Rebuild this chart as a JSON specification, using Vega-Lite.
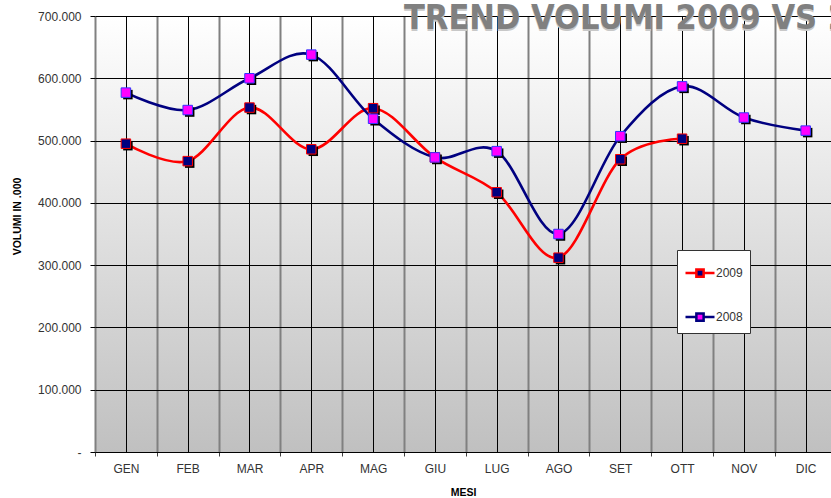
{
  "$schema": "https://vega.github.io/schema/vega-lite/v6.json",
  "autosize": "none",
  "width": 736,
  "height": 436,
  "padding": {"left": 95, "top": 16, "right": 0, "bottom": 46},
  "background": "#FFFFFF",
  "view": {
    "stroke": null,
    "fill": {"gradient": "linear", "x1": 0, "y1": 0, "x2": 0, "y2": 1,
      "stops": [{"offset": 0, "color": "#FFFFFF"}, {"offset": 1, "color": "#C0C0C0"}]}
  },
  "title": {
    "text": "\u2009TREND VOLUMI 2009 VS 2008",
    "subtitle": "TREND VOLUMI 2009 VS 2008",
    "anchor": "start",
    "frame": "group",
    "orient": "top",
    "dx": 309,
    "offset": -30,
    "font": "DejaVu Sans Condensed",
    "fontSize": 34,
    "fontWeight": "bold",
    "color": "#C8C8C8",
    "subtitleFont": "DejaVu Sans Condensed",
    "subtitleFontSize": 34,
    "subtitleFontWeight": "bold",
    "subtitleColor": "#808080",
    "subtitlePadding": -36
  },
  "datasets": {
    "vol": [
      {"m": 1, "mese": "GEN", "anno": "2009", "volume": 495000},
      {"m": 2, "mese": "FEB", "anno": "2009", "volume": 467000},
      {"m": 3, "mese": "MAR", "anno": "2009", "volume": 553000},
      {"m": 4, "mese": "APR", "anno": "2009", "volume": 486000},
      {"m": 5, "mese": "MAG", "anno": "2009", "volume": 552000},
      {"m": 6, "mese": "GIU", "anno": "2009", "volume": 473000},
      {"m": 7, "mese": "LUG", "anno": "2009", "volume": 417000},
      {"m": 8, "mese": "AGO", "anno": "2009", "volume": 312000},
      {"m": 9, "mese": "SET", "anno": "2009", "volume": 470000},
      {"m": 10, "mese": "OTT", "anno": "2009", "volume": 503000},
      {"m": 1, "mese": "GEN", "anno": "2008", "volume": 577000},
      {"m": 2, "mese": "FEB", "anno": "2008", "volume": 549000},
      {"m": 3, "mese": "MAR", "anno": "2008", "volume": 600000},
      {"m": 4, "mese": "APR", "anno": "2008", "volume": 638000},
      {"m": 5, "mese": "MAG", "anno": "2008", "volume": 535000},
      {"m": 6, "mese": "GIU", "anno": "2008", "volume": 473000},
      {"m": 7, "mese": "LUG", "anno": "2008", "volume": 483000},
      {"m": 8, "mese": "AGO", "anno": "2008", "volume": 350000},
      {"m": 9, "mese": "SET", "anno": "2008", "volume": 507000},
      {"m": 10, "mese": "OTT", "anno": "2008", "volume": 587000},
      {"m": 11, "mese": "NOV", "anno": "2008", "volume": 537000},
      {"m": 12, "mese": "DIC", "anno": "2008", "volume": 516000}
    ]
  },
  "data": {"name": "vol"},
  "encoding": {
    "x": {
      "field": "m", "type": "quantitative",
      "scale": {"domain": [0.5, 12.41], "nice": false, "zero": false},
      "axis": {
        "title": "MESI",
        "values": [0.5, 1, 1.5, 2, 2.5, 3, 3.5, 4, 4.5, 5, 5.5, 6, 6.5, 7, 7.5, 8, 8.5, 9, 9.5, 10, 10.5, 11, 11.5, 12],
        "labelExpr": "datum.value % 1 === 0 ? ['GEN','FEB','MAR','APR','MAG','GIU','LUG','AGO','SET','OTT','NOV','DIC'][datum.value - 1] : ''",
        "labelOverlap": false,
        "labelFlush": false,
        "labelBound": false,
        "labelFont": "Liberation Sans",
        "labelFontSize": 12,
        "labelColor": "#333333",
        "labelPadding": 7,
        "grid": true,
        "gridColor": {"condition": {"test": "datum.value % 1 !== 0", "value": "#808080"}, "value": "#000000"},
        "gridWidth": {"condition": {"test": "datum.value % 1 !== 0", "value": 2}, "value": 1},
        "gridOpacity": 1,
        "ticks": true,
        "tickSize": 4,
        "tickColor": "#404040",
        "tickOpacity": {"condition": {"test": "datum.value % 1 !== 0", "value": 1}, "value": 0},
        "domain": true,
        "domainColor": "#000000",
        "domainWidth": 1,
        "titleFont": "Liberation Sans",
        "titleFontSize": 10.5,
        "titleFontWeight": "bold",
        "titleColor": "#000000",
        "titleBaseline": "top",
        "titleY": 35
      }
    },
    "y": {
      "field": "volume", "type": "quantitative",
      "scale": {"domain": [0, 700000], "nice": false},
      "axis": {
        "title": "VOLUMI IN .000",
        "values": [0, 100000, 200000, 300000, 400000, 500000, 600000, 700000],
        "labelExpr": "datum.value === 0 ? '-' : replace(format(datum.value, ','), ',', '.')",
        "labelFont": "Liberation Sans",
        "labelFontSize": 12,
        "labelColor": "#333333",
        "labelPadding": 9,
        "grid": true,
        "gridColor": "#000000",
        "gridWidth": 1,
        "gridOpacity": 1,
        "tickSize": 5,
        "tickColor": "#000000",
        "domain": false,
        "titleFont": "Liberation Sans",
        "titleFontSize": 10.5,
        "titleFontWeight": "bold",
        "titleColor": "#000000",
        "titleAngle": 270,
        "titleAlign": "center",
        "titleBaseline": "middle",
        "titleX": -78,
        "titleY": 200
      }
    }
  },
  "layer": [
    {
      "mark": {"type": "line", "interpolate": "cardinal", "strokeWidth": 2.6},
      "encoding": {
        "color": {
          "field": "anno", "type": "nominal",
          "scale": {"domain": ["2009", "2008"], "range": ["#FF0000", "#000080"]},
          "legend": {
            "title": null,
            "orient": "none",
            "legendX": 582,
            "legendY": 234,
            "direction": "vertical",
            "fillColor": "#FFFFFF",
            "strokeColor": "#333333",
            "padding": 7,
            "cornerRadius": 0,
            "symbolType": "M-1,0H-0.25M0.25,0H1M-0.25,-0.25H0.25V0.25H-0.25Z",
            "symbolSize": 841,
            "symbolStrokeWidth": 2.5,
            "symbolOffset": 0,
            "labelOffset": 0,
            "rowPadding": 19,
            "labelFont": "Liberation Sans",
            "labelFontSize": 12,
            "labelColor": "#333333",
            "encode": {
              "symbols": {
                "update": {
                  "fill": {"signal": "datum.value === '2009' ? '#000080' : '#FF00FF'"},
                  "fillOpacity": {"value": 1}
                }
              }
            }
          }
        },
        "detail": {"field": "anno"}
      }
    },
    {
      "mark": {"type": "square", "size": 90, "filled": true, "color": "#000000", "opacity": 1, "xOffset": 2, "yOffset": 2}
    },
    {
      "mark": {"type": "square", "size": 90, "filled": true, "strokeWidth": 1, "opacity": 1},
      "encoding": {
        "fill": {
          "field": "anno", "type": "nominal",
          "scale": {"domain": ["2009", "2008"], "range": ["#000080", "#FF00FF"]},
          "legend": null
        },
        "stroke": {
          "field": "anno", "type": "nominal",
          "scale": {"domain": ["2009", "2008"], "range": ["#FF0000", "#3333FF"]},
          "legend": null
        }
      }
    }
  ]
}
